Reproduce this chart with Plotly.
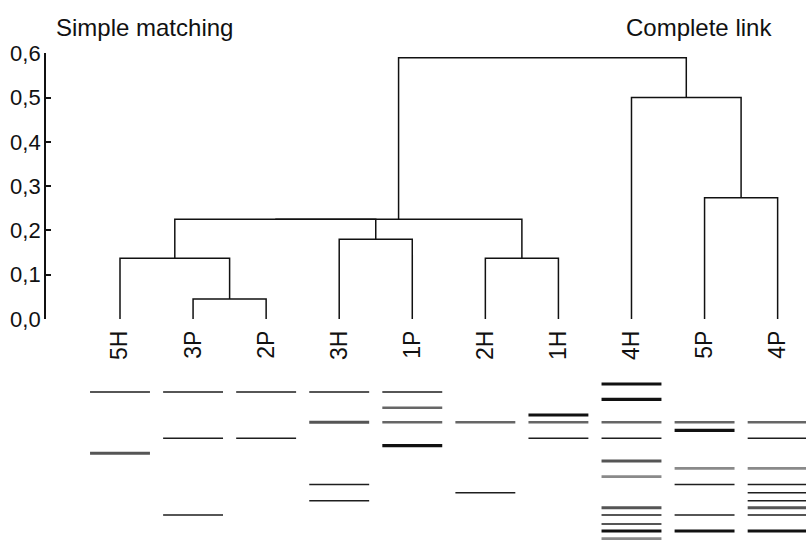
import plotly.graph_objects as go

# ---------------- data ----------------
leaves = ["5H", "3P", "2P", "3H", "1P", "2H", "1H", "4H", "5P", "4P"]

# merges: (left node, right node, distance)
merge_left = ["3P", "5H", "3H", "2H", "5P", "m1", "m5", "4H", "m6"]
merge_right = ["2P", "m0", "1P", "1H", "4P", "m2", "m3", "m4", "m7"]
merge_height = [0.045, 0.137, 0.180, 0.137, 0.274, 0.225, 0.225, 0.500, 0.590]

y_ticks = [0.0, 0.1, 0.2, 0.3, 0.4, 0.5, 0.6]

# gel band migration (arbitrary units from well) and band intensity code per lane
band_pos = {
    "5H": [19, 80.3],
    "3P": [19, 65.3, 142],
    "2P": [19, 65.3],
    "3H": [19, 49.3, 111.5, 127.7],
    "1P": [19, 34.7, 49.3, 72.7],
    "2H": [49.3, 119.7],
    "1H": [42, 49.3, 65.3],
    "4H": [11, 26.3, 49.3, 65.3, 88, 103.7, 134.7, 142, 151, 158, 165.7],
    "5P": [49.3, 57.3, 95.3, 111.5, 142, 158],
    "4P": [49.3, 65.3, 95.3, 111.5, 119.7, 127.7, 134.7, 142, 158],
}
band_int = {
    "5H": [1, 3],
    "3P": [1, 1, 1],
    "2P": [1, 1],
    "3H": [1, 3, 1, 1],
    "1P": [1, 2, 2, 4],
    "2H": [2, 1],
    "1H": [4, 2, 1],
    "4H": [4, 4, 2, 1, 3, 5, 3, 1, 1, 4, 5],
    "5P": [2, 4, 5, 1, 1, 4],
    "4P": [2, 1, 5, 1, 1, 1, 3, 1, 4],
}

# ---------------- styling ----------------
FONT = "Liberation Sans, Arial, sans-serif"
W, H = 806, 543
band_style = {
    1: dict(width=1.4, color="#1e1e1e"),
    2: dict(width=2.4, color="#666666"),
    3: dict(width=3.0, color="#555555"),
    4: dict(width=3.2, color="#111111"),
    5: dict(width=2.8, color="#8a8a8a"),
}

# ---------------- dendrogram geometry ----------------
pos = {name: float(i) for i, name in enumerate(leaves)}
hgt = {name: 0.0 for name in leaves}
xs, ys = [], []
for k, (a, b, h) in enumerate(zip(merge_left, merge_right, merge_height)):
    xa, xb = pos[a], pos[b]
    xs += [xa, xa, xb, xb, None]
    ys += [hgt[a], h, h, hgt[b], None]
    pos["m%d" % k] = (xa + xb) / 2
    hgt["m%d" % k] = h

fig = go.Figure()
fig.add_trace(go.Scatter(x=xs, y=ys, mode="lines",
                         line=dict(color="#111111", width=1.5),
                         hoverinfo="skip", showlegend=False,
                         xaxis="x", yaxis="y"))

# ---------------- gel bands ----------------
half = 0.41
for i, name in enumerate(leaves):
    for p, code in zip(band_pos[name], band_int[name]):
        fig.add_trace(go.Scatter(x=[i - half, i + half], y=[p, p], mode="lines",
                                 line=band_style[code], hoverinfo="skip",
                                 showlegend=False, xaxis="x", yaxis="y2"))

# ---------------- layout ----------------
px_per_leaf = 73.07
x0_px = 46
leaf0_px = 120
r0 = -(leaf0_px - x0_px) / px_per_leaf
r1 = r0 + (W - x0_px) / px_per_leaf

y0_px, y6_px = 319, 53.3
fig.update_layout(
    width=W, height=H,
    margin=dict(l=0, r=0, t=0, b=0, autoexpand=False),
    paper_bgcolor="white", plot_bgcolor="white",
    separators=", ",
    font=dict(family=FONT, color="#111111"),
    xaxis=dict(domain=[x0_px / W, 1], range=[r0, r1], automargin=False,
               tickmode="array", tickvals=list(range(len(leaves))), ticktext=leaves,
               tickangle=-90, ticks="", showline=False, showgrid=False, zeroline=False,
               tickfont=dict(size=23, family=FONT, color="#111111"),
               ticklabelstandoff=6, anchor="y", fixedrange=True),
    yaxis=dict(domain=[(H - y0_px) / H, (H - y6_px) / H], range=[0, 0.6],
               automargin=False,
               tickmode="array", tickvals=y_ticks, tickformat=".1f",
               ticks="inside", ticklen=5, tickwidth=1.5, tickcolor="#111111",
               ticklabelstandoff=-1,
               showline=True, linecolor="#111111", linewidth=1.8,
               showgrid=False, zeroline=False,
               tickfont=dict(size=22, family=FONT, color="#111111"),
               anchor="x", fixedrange=True),
    yaxis2=dict(domain=[0, 170 / H], range=[170, 0], visible=False,
                automargin=False, anchor="x", fixedrange=True),
    annotations=[
        dict(text="Simple matching", xref="paper", yref="paper",
             x=54 / W, y=1 - 28 / H, xanchor="left", yanchor="middle",
             showarrow=False, font=dict(size=24, family=FONT, color="#111111")),
        dict(text="Complete link", xref="paper", yref="paper",
             x=774 / W, y=1 - 28 / H, xanchor="right", yanchor="middle",
             showarrow=False, font=dict(size=24, family=FONT, color="#111111")),
    ],
)

fig.write_html("out.html")
